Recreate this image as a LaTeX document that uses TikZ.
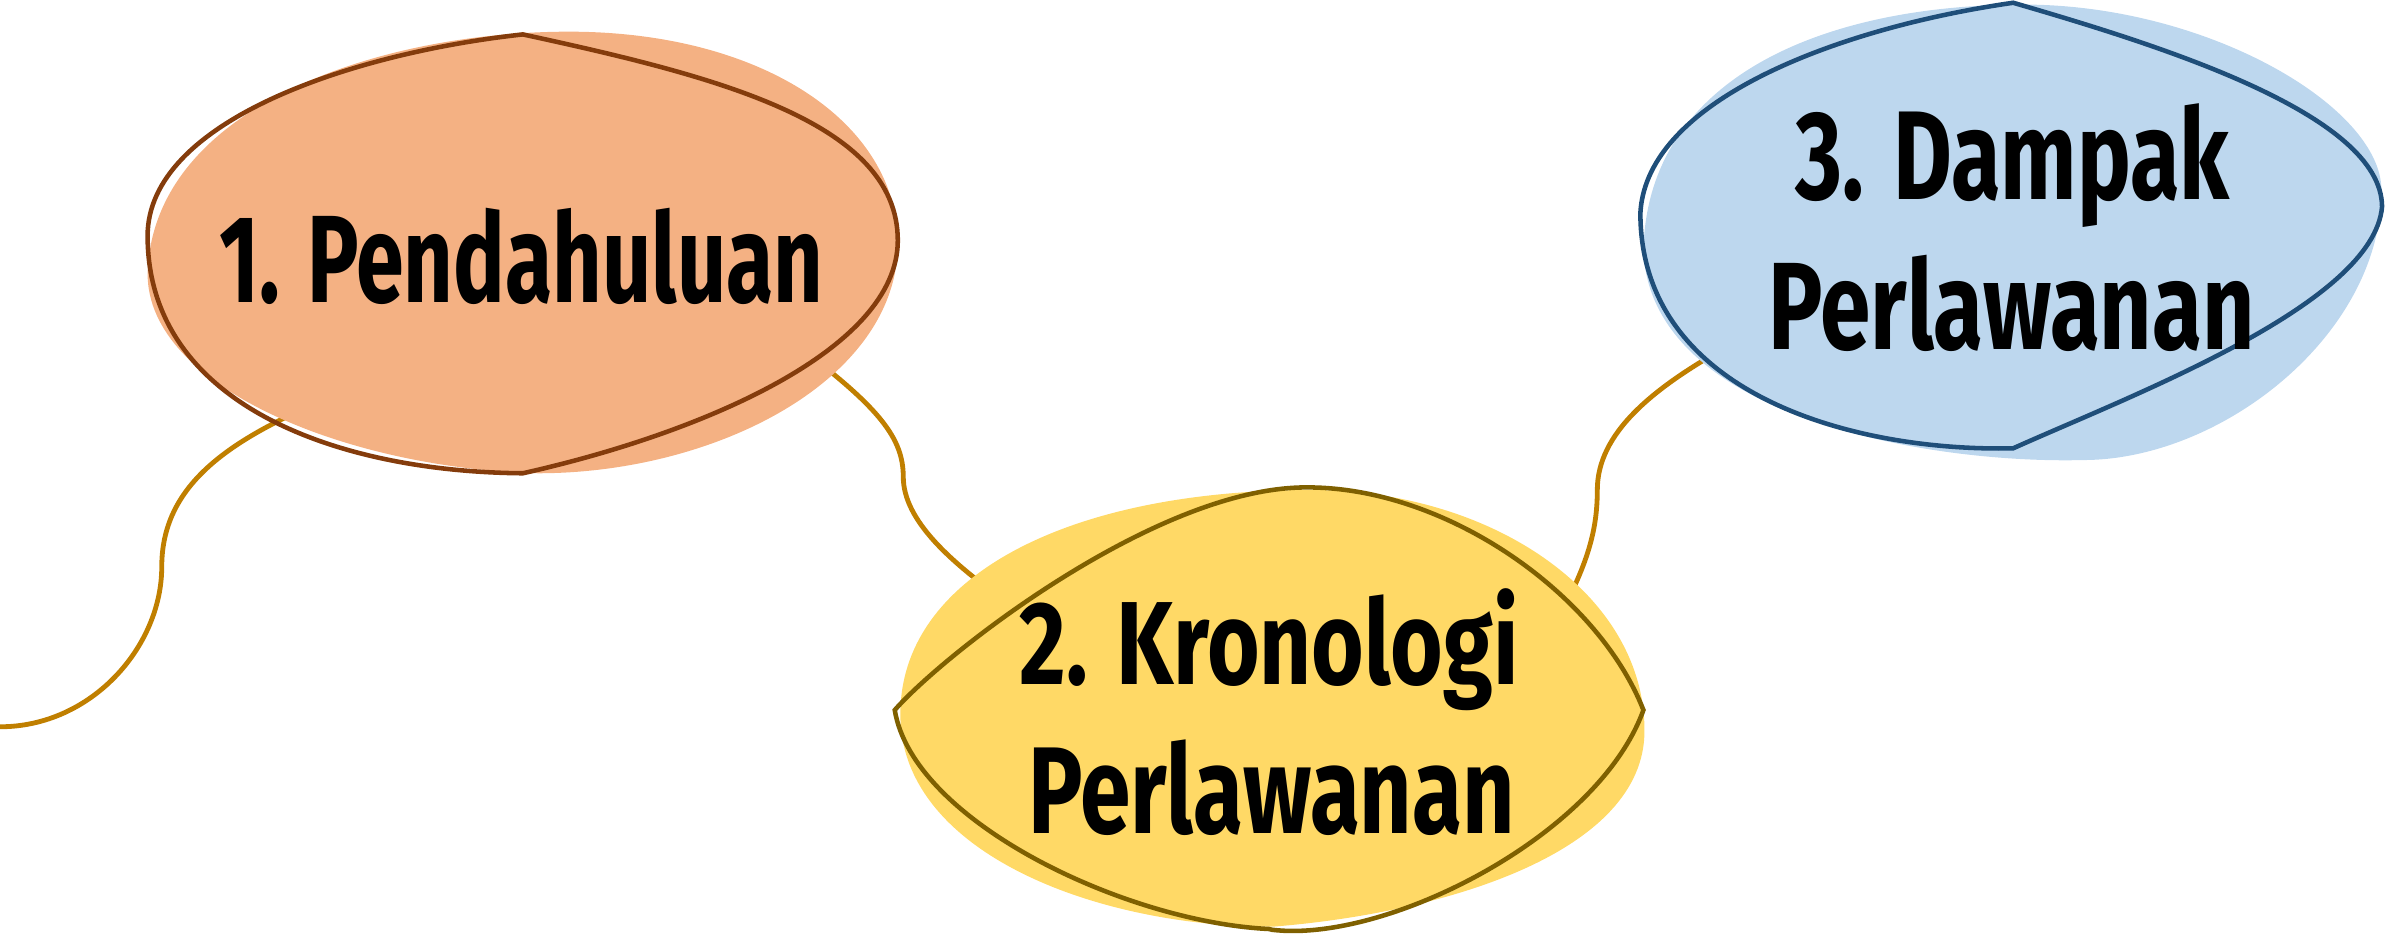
\documentclass[tikz,border=0pt]{standalone}
\usepackage{fontspec}
\setmainfont{Fira Sans}
\newlength\pxu
\setlength\pxu{0.1mm}
% one line of a label, fitted to a given width and ascender height
\newcommand\fitline[3]{\resizebox{#1\pxu}{#2\pxu}{\bfseries #3}}
\definecolor{peachfill}{HTML}{F4B183}
\definecolor{peachline}{HTML}{843C0C}
\definecolor{goldfill}{HTML}{FFD966}
\definecolor{goldline}{HTML}{7F6000}
\definecolor{skyfill}{HTML}{BDD7EE}
\definecolor{skyline}{HTML}{1F4E79}
\definecolor{linkgold}{HTML}{C07F00}
\begin{document}
\begin{tikzpicture}[x=0.1mm, y=-0.1mm,
  link/.style={draw=linkgold, line width=0.9pt, line cap=round},
  rim/.style={line width=0.85pt, line join=miter},
  label/.style={anchor=base, inner sep=0pt, outer sep=0pt, text=black}]
\useasboundingbox (0,0) rectangle (1568,616);

% connector end points
\coordinate (c1s) at (0,477.6);
\coordinate (c1m) at (106.3,372.4);
\coordinate (c1e) at (215,262);
\coordinate (c2s) at (525,228);
\coordinate (c2m) at (593.6,313.3);
\coordinate (c2e) at (665,398);
\coordinate (c3s) at (1030,395);
\coordinate (c3m) at (1049.7,322);
\coordinate (c3e) at (1140,225);

% wavy connectors, drawn beneath the blobs
\draw[link] (c1s) .. controls (60,477.6) and (106.3,425) .. (c1m)
            .. controls (106.3,320) and (148,290) .. (c1e);
\draw[link] (c2s) .. controls (578,268) and (593.6,288) .. (c2m)
            .. controls (593.6,342) and (625,370) .. (c2e);
\draw[link] (c3s) .. controls (1045,365) and (1049.7,345) .. (c3m)
            .. controls (1049.7,285) and (1085,255) .. (c3e);

% 1: peach blob
\fill[peachfill] (374,20.8)
  .. controls (500,20.8) and (590,80) .. (590,160)
  .. controls (590,250) and (470,311) .. (353.6,311)
  .. controls (230,308) and (97,255) .. (97,180)
  .. controls (100,70) and (250,20.8) .. cycle;
\draw[rim, draw=peachline] (343.6,22.6)
  .. controls (470,50) and (590,80) .. (590,158)
  .. controls (590,230) and (460,285) .. (343.6,311)
  .. controls (220,310) and (97,265) .. (97,155)
  .. controls (97,80) and (230,35) .. cycle;

% 2: yellow blob
\fill[goldfill] (861.6,322)
  .. controls (980,322) and (1080.7,390) .. (1080.7,480)
  .. controls (1081,560) and (950,600) .. (836,609)
  .. controls (720,609) and (592,560) .. (591.7,470)
  .. controls (591,380) and (700,322) .. cycle;
\draw[rim, draw=goldline] (588,466.6)
  .. controls (620,430) and (760,320) .. (858.7,320.3)
  .. controls (950,320) and (1050,390) .. (1080,466.6)
  .. controls (1050,550) and (910,620) .. (836,611)
  -- (834,610.5)
  .. controls (740,606) and (600,540) .. cycle;

% 3: blue blob
\fill[skyfill] (1330,3)
  .. controls (1450,3) and (1565,70) .. (1565,125)
  .. controls (1565,220) and (1460,302) .. (1369.6,302.3)
  .. controls (1270,305) and (1085,275) .. (1080,165)
  .. controls (1082,50) and (1200,3) .. cycle;
\draw[rim, draw=skyline] (1323,1.8)
  .. controls (1420,30) and (1565,75) .. (1565.4,135.8)
  .. controls (1560,200) and (1400,260) .. (1323,294.6)
  .. controls (1220,297) and (1078,260) .. (1078,140)
  .. controls (1082,65) and (1210,18) .. cycle;

% labels
\node[label] (t1)  at (342.6,199)   {\fitline{397}{62}{1. Pendahuluan}};
\node[label] (t2a) at (834,449.5)   {\fitline{328}{63}{2. Kronologi}};
\node[label] (t2b) at (835.6,547.6) {\fitline{320}{61.6}{Perlawanan}};
\node[label] (t3a) at (1322.7,131.4){\fitline{285}{63}{3. Dampak}};
\node[label] (t3b) at (1322,229.6)  {\fitline{319.5}{62}{Perlawanan}};
\end{tikzpicture}
\end{document}
